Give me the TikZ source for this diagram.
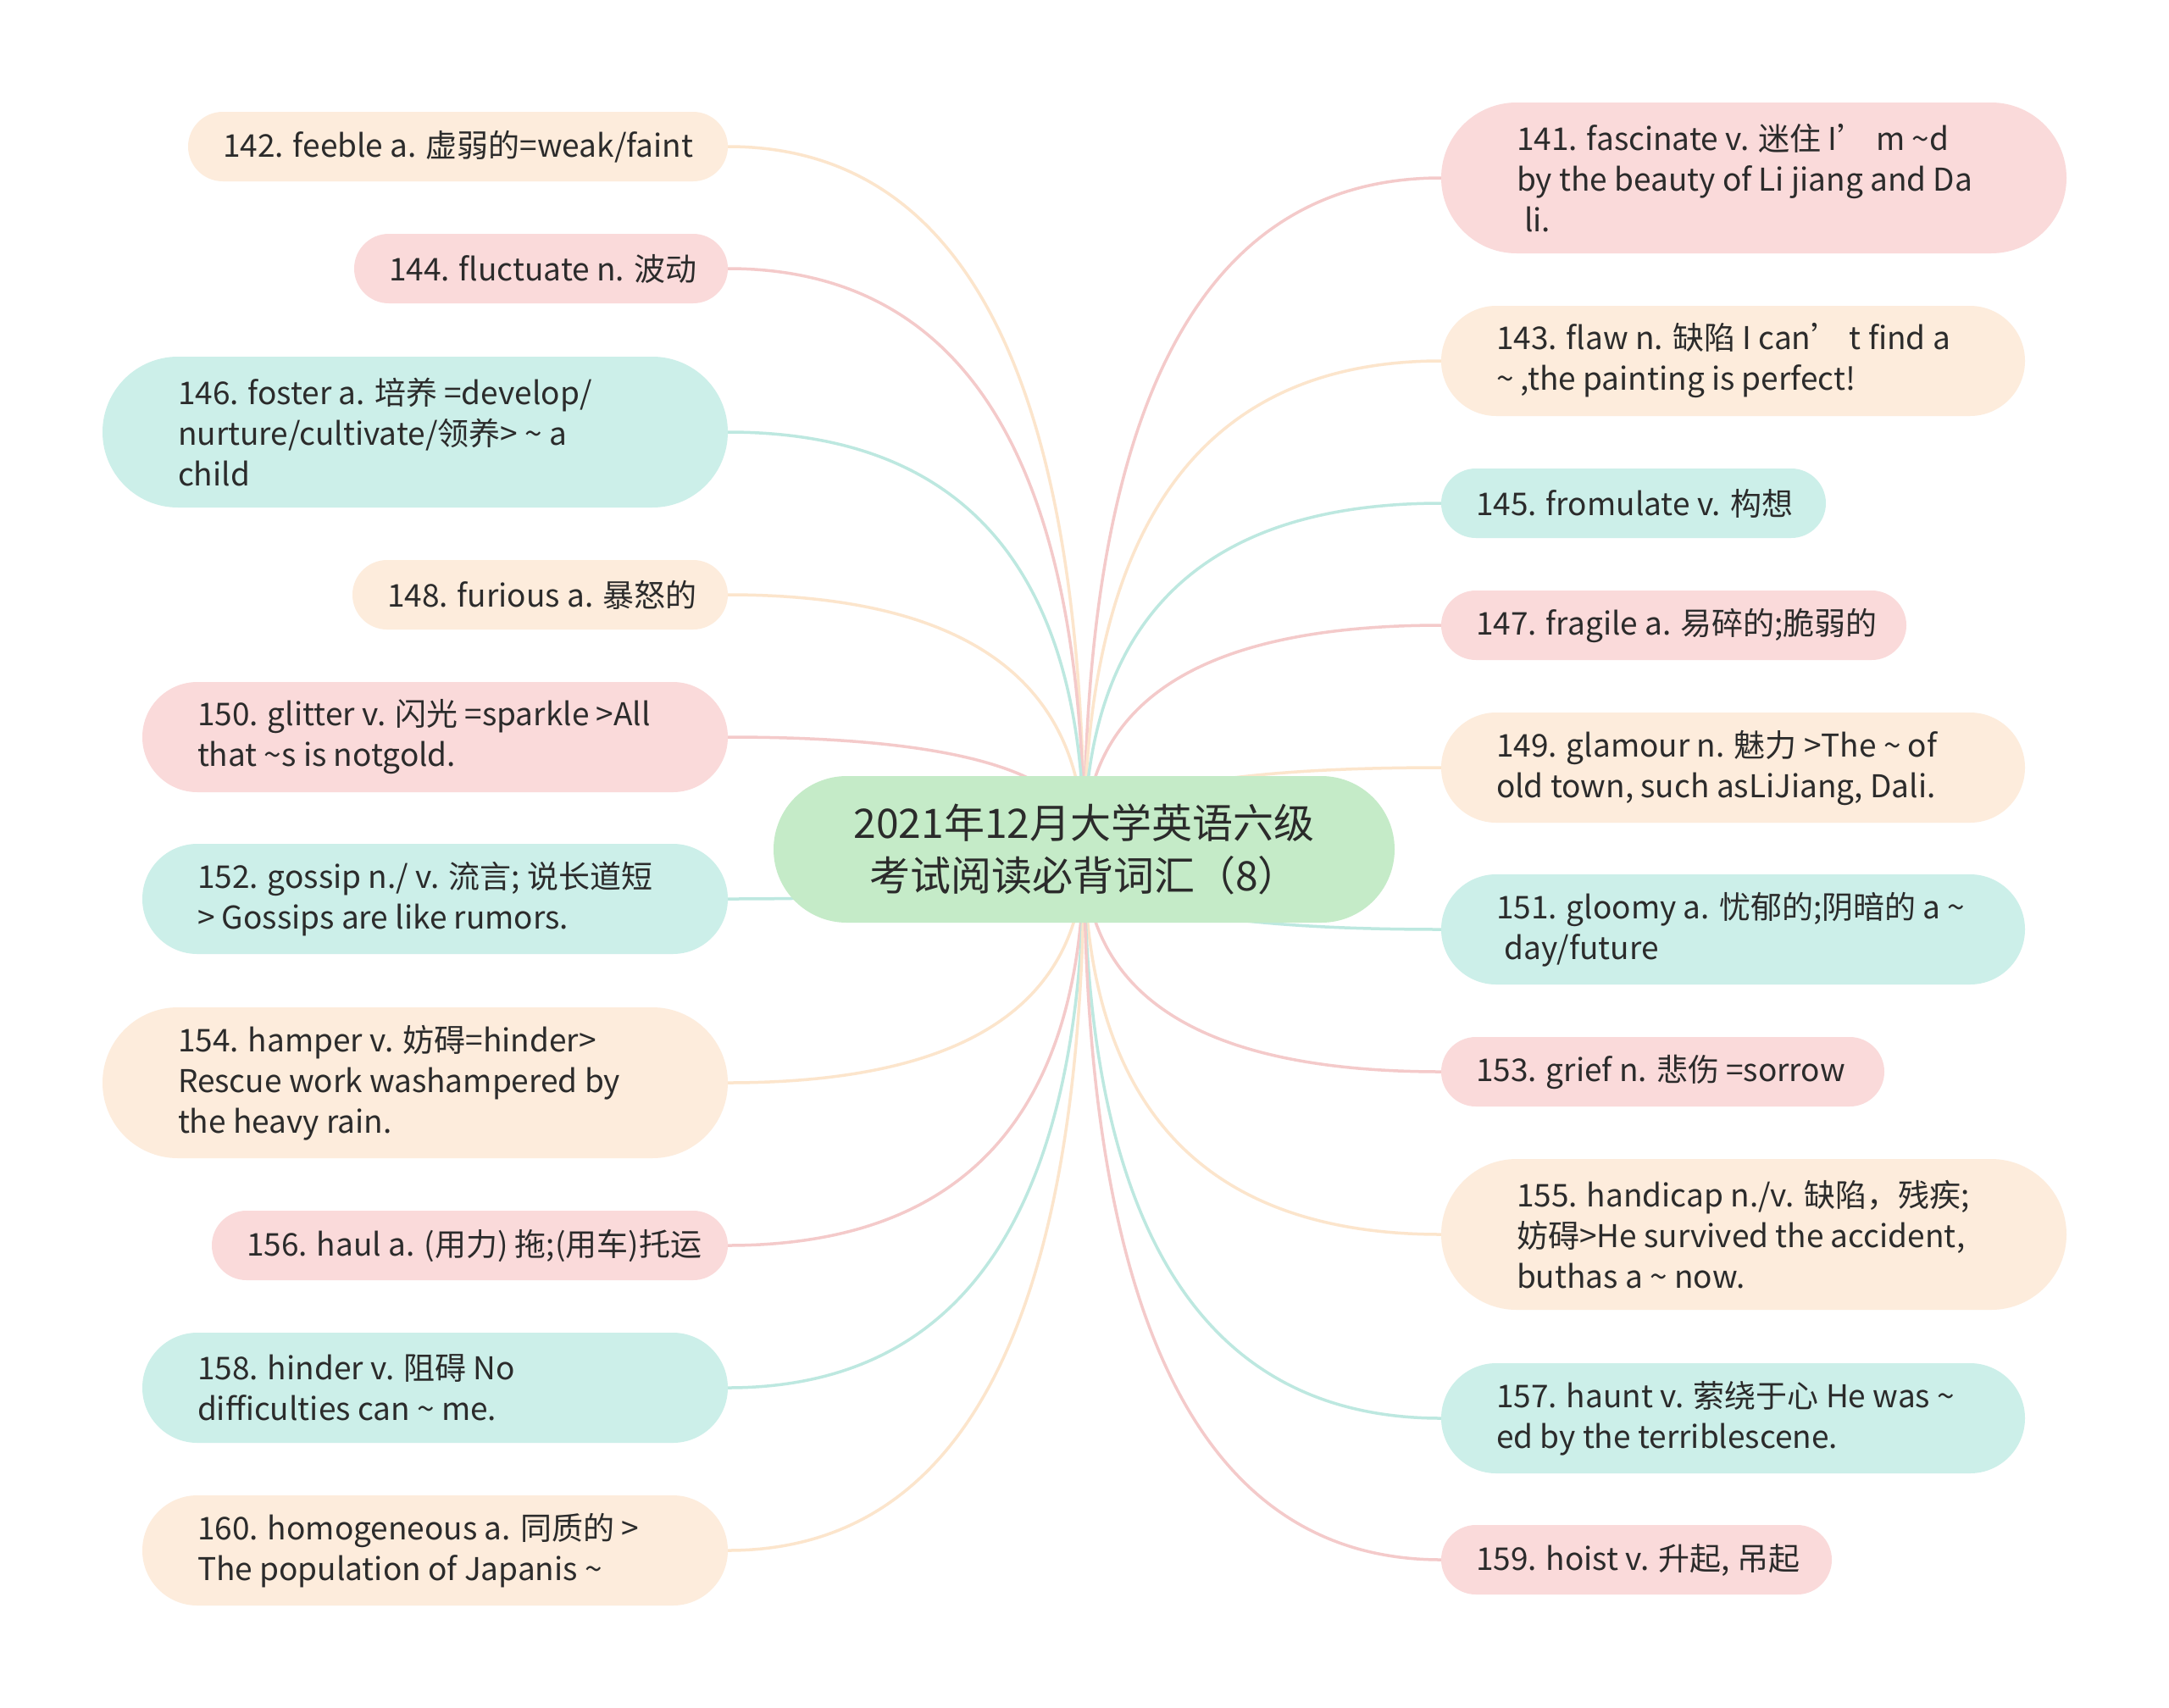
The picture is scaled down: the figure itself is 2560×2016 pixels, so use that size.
\documentclass[tikz,border=0pt]{standalone}
\usepackage{fontspec}
\setmainfont{Noto Sans CJK SC}
\usetikzlibrary{calc,shapes.misc}
\pgfdeclarelayer{bg}
\pgfsetlayers{bg,main}
\definecolor{pinkF}{HTML}{FADADA}
\definecolor{peachF}{HTML}{FDECDC}
\definecolor{tealF}{HTML}{CCEFE9}
\definecolor{rootF}{HTML}{C5EBC8}
\definecolor{pinkL}{HTML}{F4CACA}
\definecolor{peachL}{HTML}{FCE5CC}
\definecolor{tealL}{HTML}{BDE8E0}
\definecolor{ink}{HTML}{2B2B2B}
\tikzset{
  pill/.style={rounded rectangle, fill=#1, draw=none, inner sep=0pt},
  txt/.style={text=ink, align=left, inner sep=0pt, font=\fontsize{37}{48}\selectfont},
  conn/.style={draw=#1, line width=3.5pt},
}
\newcommand\lf[7]{%
  \node[pill=#6, minimum width=#4pt, minimum height=#5pt] (b#1) at (#2,#3) {};
  \node[txt, anchor=west] (t#1) at ($(b#1.west)+(#5/2,0)$) {#7};
}
\newcommand\lk[3]{%
  \draw[conn=#3] (root.center) .. controls ($(root.center)!0.6667!(root.center |- b#1.#2)$) and ($(b#1.#2)!0.6667!(root.center |- b#1.#2)$) .. (b#1.#2);
}
\begin{document}
\begin{tikzpicture}[x=1pt,y=-1pt]
\useasboundingbox (0,0) rectangle (2560,2016);
\node[pill=rootF, minimum width=733pt, minimum height=173pt, align=center, text=ink, font=\fontsize{48}{62}\selectfont] (root) at (1279.5,1002.5) {2021年12月大学英语六级\\考试阅读必背词汇（8）};
% left
\lf{142}{540.5}{173}{637}{82}{peachF}{142. feeble a. 虚弱的=weak/faint}
\lf{144}{638.5}{317}{441}{82}{pinkF}{144. fluctuate n. 波动}
\lf{146}{490}{510}{738}{178}{tealF}{146. foster a. 培养 =develop/\\nurture/cultivate/领养> \~{} a\\child}
\lf{148}{637.5}{702}{443}{82}{peachF}{148. furious a. 暴怒的}
\lf{150}{513.5}{870}{691}{130}{pinkF}{150. glitter v. 闪光 =sparkle >All\\that \~{}s is notgold.}
\lf{152}{513.5}{1061}{691}{130}{tealF}{152. gossip n./ v. 流言; 说长道短\\> Gossips are like rumors.}
\lf{154}{490}{1278}{738}{178}{peachF}{154. hamper v. 妨碍=hinder>\\Rescue work washampered by\\the heavy rain.}
\lf{156}{554.5}{1470}{609}{82}{pinkF}{156. haul a. (用力) 拖;(用车)托运}
\lf{158}{513.5}{1638}{691}{130}{tealF}{158. hinder v. 阻碍 No\\difficulties can \~{} me.}
\lf{160}{513.5}{1830}{691}{130}{peachF}{160. homogeneous a. 同质的 >\\The population of Japanis \~{}}
% right
\lf{141}{2070}{210}{738}{178}{pinkF}{141. fascinate v. 迷住 I’ m \~{}d\\by the beauty of Li jiang and Da\\\hspace*{0.25em}li.}
\lf{143}{2045.5}{426}{689}{130}{peachF}{143. flaw n. 缺陷 I can’ t find a\\\~{} ,the painting is perfect!}
\lf{145}{1928}{594}{454}{82}{tealF}{145. fromulate v. 构想}
\lf{147}{1975.5}{738}{549}{82}{pinkF}{147. fragile a. 易碎的;脆弱的}
\lf{149}{2045.5}{906}{689}{130}{peachF}{149. glamour n. 魅力 >The \~{} of\\old town, such asLiJiang, Dali.}
\lf{151}{2045.5}{1097}{689}{130}{tealF}{151. gloomy a. 忧郁的;阴暗的 a \~{}\\\hspace*{0.25em}day/future}
\lf{153}{1962.5}{1265}{523}{82}{pinkF}{153. grief n. 悲伤 =sorrow}
\lf{155}{2070}{1457}{738}{178}{peachF}{155. handicap n./v. 缺陷，残疾;\\妨碍>He survived the accident,\\buthas a \~{} now.}
\lf{157}{2045.5}{1674}{689}{130}{tealF}{157. haunt v. 萦绕于心 He was \~{}\\ed by the terriblescene.}
\lf{159}{1931.5}{1841}{461}{82}{pinkF}{159. hoist v. 升起, 吊起}
\begin{pgfonlayer}{bg}
\fill[white] (0,0) rectangle (2560,2016);
\lk{142}{east}{peachL}
\lk{144}{east}{pinkL}
\lk{146}{east}{tealL}
\lk{148}{east}{peachL}
\lk{150}{east}{pinkL}
\lk{152}{east}{tealL}
\lk{154}{east}{peachL}
\lk{156}{east}{pinkL}
\lk{158}{east}{tealL}
\lk{160}{east}{peachL}
\lk{141}{west}{pinkL}
\lk{143}{west}{peachL}
\lk{145}{west}{tealL}
\lk{147}{west}{pinkL}
\lk{149}{west}{peachL}
\lk{151}{west}{tealL}
\lk{153}{west}{pinkL}
\lk{155}{west}{peachL}
\lk{157}{west}{tealL}
\lk{159}{west}{pinkL}
\end{pgfonlayer}
\end{tikzpicture}
\end{document}
